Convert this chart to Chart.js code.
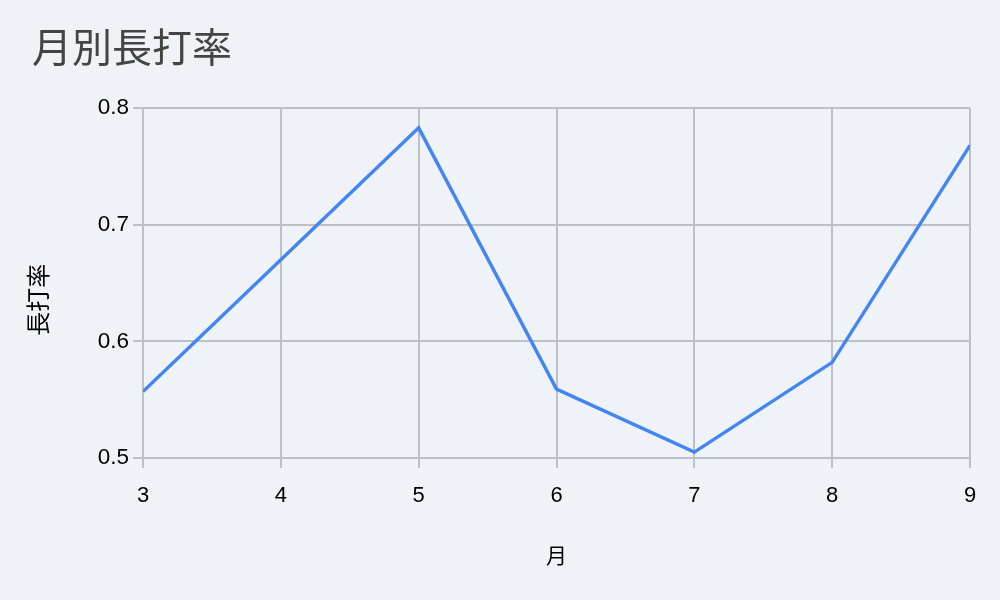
<!DOCTYPE html>
<html>
<head>
<meta charset="utf-8">
<script src="https://cdn.jsdelivr.net/npm/chart.js@4"></script>
<style>
  html, body { margin: 0; padding: 0; background: #eff3f8; }
  #wrap { width: 1000px; height: 600px; }
</style>
</head>
<body>
<div id="wrap"><canvas id="myChart"></canvas></div>
<script>
// months and slugging percentage per month
const months = [3, 4, 5, 6, 7, 8, 9];
const slugging = [0.557, 0.670, 0.783, 0.559, 0.505, 0.582, 0.768];
const yTicks = [0.5, 0.6, 0.7, 0.8];

const fontFamily = "Liberation Sans, Noto Sans CJK JP, sans-serif";

const ctx = document.getElementById('myChart').getContext('2d');

const myChart = new Chart(ctx, {
    type: 'line',
    data: {
        datasets: [{
            label: '長打率',
            data: months.map((m, i) => ({ x: m, y: slugging[i] })),
            borderColor: '#4285f4',
            borderWidth: 3.4,
            pointRadius: 0,
            tension: 0,
            fill: false
        }]
    },
    options: {
        responsive: true,
        maintainAspectRatio: false,
        animation: false,
        layout: {
            padding: { left: 32, right: 30, top: 0, bottom: 0 }
        },
        scales: {
            x: {
                type: 'linear',
                min: 3,
                max: 9,
                afterBuildTicks: axis => { axis.ticks = months.map(v => ({ value: v })); },
                afterFit: axis => { axis.height = 142; },
                grid: { color: '#bdc1c6', lineWidth: 2, tickLength: 10 },
                border: { color: '#bdc1c6', width: 2 },
                ticks: { color: '#000', font: { size: 22, family: fontFamily }, padding: 15 },
                title: {
                    display: true,
                    text: '月',
                    color: '#000',
                    font: { size: 21, family: fontFamily },
                    padding: { top: 20, bottom: 30 }
                }
            },
            y: {
                min: 0.5,
                max: 0.8,
                afterBuildTicks: axis => { axis.ticks = yTicks.map(v => ({ value: v })); },
                afterFit: axis => { axis.width = 111; },
                grid: { color: '#bdc1c6', lineWidth: 2, tickLength: 10 },
                border: { color: '#bdc1c6', width: 2 },
                ticks: {
                    color: '#000',
                    font: { size: 22.5, family: fontFamily },
                    padding: 4,
                    callback: v => v.toFixed(1)
                },
                title: {
                    display: true,
                    // trailing spaces nudge the rotated title down like the reference
                    text: '長打率     ',
                    color: '#000',
                    font: { size: 24, family: fontFamily },
                    padding: { top: -6, bottom: 10 }
                }
            }
        },
        plugins: {
            legend: { display: false },
            tooltip: { enabled: false },
            title: {
                display: true,
                text: '月別長打率',
                align: 'start',
                color: '#444',
                font: { size: 40, weight: 'normal', family: fontFamily },
                padding: { top: 27, bottom: 33 }
            }
        }
    }
});
</script>
</body>
</html>
